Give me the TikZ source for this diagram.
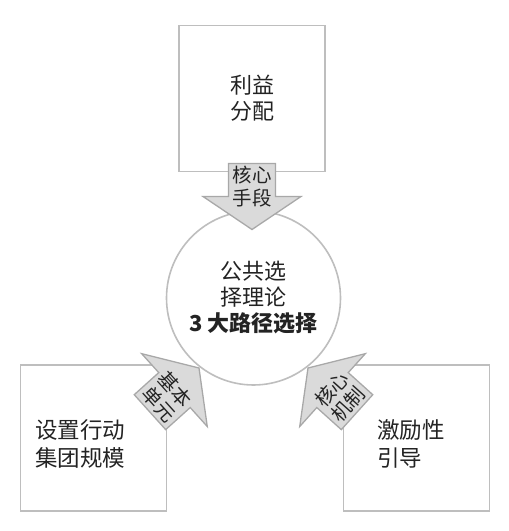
\documentclass[tikz,border=0pt]{standalone}
\usepackage{fontspec}
\setmainfont{Noto Sans CJK SC}
\usepackage{tikz}

\definecolor{framegray}{RGB}{190,190,190}
\definecolor{arrowgray}{RGB}{168,168,168}
\definecolor{arrowfill}{RGB}{218,218,218}
\definecolor{textdark}{RGB}{35,35,35}

% block arrow: tip, direction, label name, label rotation, label
\newcommand{\blockarrow}[5]{
    \begin{scope}[shift={(#1)}, rotate=#2]
        \draw[arrowbody] (0,0) -- (-33,49) -- (-33,23.5) -- (-66,23.5) -- (-66,-23.5) -- (-33,-23.5) -- (-33,-49) -- cycle;
        \node[arrowtext, rotate=#4] (#3) at (-43,0) {#5};
    \end{scope}
}

\begin{document}
\begin{tikzpicture}[x=1pt, y=1pt,
        every node/.style={text=textdark, align=center},
        factor/.style={draw=framegray, line width=1.6pt, minimum width=146pt, minimum height=146pt, inner sep=0pt},
        core/.style={circle, draw=framegray, line width=1.6pt, fill=white, minimum size=174pt, inner sep=0pt},
        arrowbody/.style={draw=arrowgray, fill=arrowfill, line width=1.3pt},
        arrowtext/.style={inner sep=0pt, font=\fontsize{19.5}{22.5}\selectfont},
        boxtext/.style={inner sep=0pt, font=\fontsize{22}{26}\selectfont},
        sidetext/.style={inner sep=0pt, anchor=west, align=left, font=\fontsize{22.5}{28}\selectfont}
    ]
    \useasboundingbox (0,0) rectangle (509,531);

    % Nodes
    \node[factor, boxtext] (share) at (252,432.5) {利益\\分配};
    \node[factor] (group) at (93.5,93) {};
    \node[factor] (incentive) at (416.5,93) {};
    \node[sidetext] (grouptext) at (35,87) {设置行动\\集团规模};
    \node[sidetext] (incentivetext) at (377,87) {激励性\\引导};
    \node[core, boxtext] (theory) at (253.5,233) {公共选\\择理论\\\textbf{3 大路径选择}};

    % Arrows
    \coordinate (tiptop) at ([shift={(-1.5,68.5)}]theory.center);
    \coordinate (tipleft) at ([shift={(-54.5,-70)}]theory.center);
    \coordinate (tipright) at ([shift={(54.5,-70)}]theory.center);
    \blockarrow{tiptop}{-90}{means}{0}{核心\\手段}
    \blockarrow{tipleft}{42}{unit}{-48}{基本\\单元}
    \blockarrow{tipright}{138}{mechanism}{48}{核心\\机制}

\end{tikzpicture}
\end{document}
